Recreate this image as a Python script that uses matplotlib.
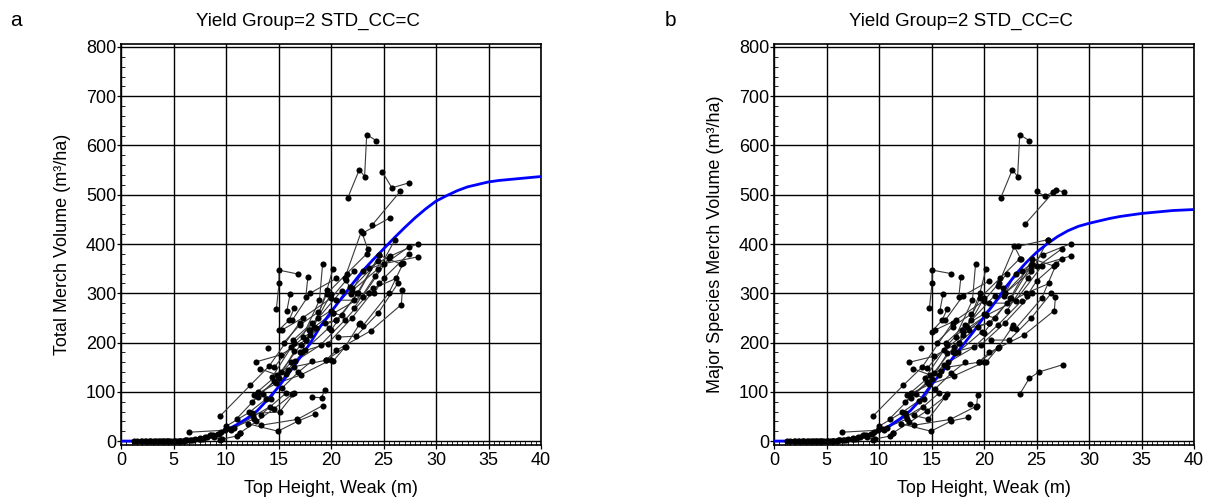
import matplotlib
matplotlib.use("Agg")
import matplotlib.pyplot as plt
from matplotlib.ticker import MultipleLocator

plt.rcParams['font.family'] = ['Liberation Sans', 'DejaVu Sans']

# fitted yield curves (read every 1 m of top height)
curve_h = list(range(0, 41))
curve_a = [0, 0, 0, 0, 0, 1, 2, 4, 7, 13, 22, 33, 46, 62, 85, 110, 138, 168, 198, 233,
           262, 290, 318, 345, 368, 390, 412, 433, 453, 471, 487, 498, 508, 516, 521,
           526, 529, 531, 533, 535, 537]
curve_b = [0, 0, 0, 0, 0, 1, 2, 4, 7, 12, 20, 31, 45, 62, 85, 115, 140, 168, 195, 222,
           252, 280, 310, 338, 362, 383, 400, 415, 427, 436, 442, 447, 452, 456, 459,
           462, 464, 466, 468, 469, 470]

# plot remeasurements, near-zero young plots (same in both panels)
young_h = [
    [1.2, 2.0, 2.9], [1.5, 2.4, 3.4, 4.3], [1.9, 2.8, 3.9, 5.0], [2.3, 3.2, 4.4, 5.5],
    [2.7, 3.7, 4.8, 6.0], [3.1, 4.1, 5.3, 6.6], [3.6, 4.6, 5.7, 7.0], [4.0, 5.1, 6.3, 7.6],
    [4.5, 5.6, 6.9, 8.2], [5.0, 6.1, 7.4, 8.8], [5.6, 6.7, 8.0, 9.3], [6.5, 9.9],
    [6.2, 7.5, 8.6, 9.5], [7.8, 8.9, 9.4], [7.5, 9.2, 10.8], [9.6, 11.0, 11.3],
]
young_v = [
    [0, 0, 0], [0, 0, 0, 0], [0, 0, 0, 0], [0, 0, 0, 1],
    [0, 0, 0, 1], [0, 0, 1, 3], [0, 0, 1, 4], [0, 0, 2, 5],
    [0, 1, 3, 8], [0, 2, 5, 12], [1, 3, 8, 15], [18, 22],
    [2, 6, 12, 18], [4, 8, 3], [5, 14, 26], [4, 10, 16],
]

# panel a: total merch volume
height_a = [
    [21.6, 22.7, 23.2, 23.4, 24.3], [24.9, 25.8, 27.4], [23.9, 26.6], [23.0, 25.6],
    [14.8, 15.05, 15.05, 16.85], [15.8, 16.1], [17.6, 17.8], [17.3, 18.9, 19.2],
    [18.4, 19.6, 20.2], [13.97], [9.4, 12.3, 14.1, 17.0], [12.9, 15.2, 17.6, 20.0],
    [13.2, 14.9, 16.5, 19.5, 21.4], [12.7, 14.8, 17.1, 20.0], [12.5, 15.1, 16.5],
    [12.1, 14.95, 16.9, 18.5], [13.3, 16.8, 19.2], [18.2, 19.1, 19.4], [13.3, 15.7],
    [15.3, 17.3, 20.0, 22.2], [15.5, 17.0, 18.8], [16.3, 18.0, 20.5],
    [17.9, 20.5, 22.6, 24.6], [18.0, 20.2, 23.0, 25.5], [17.0, 19.7, 22.0, 24.6],
    [16.6, 19.0, 21.3, 23.6], [19.5, 20.5, 23.8, 26.7, 26.8], [20.7, 22.4, 24.5, 26.4],
    [21.3, 22.9, 23.5], [20.5, 22.2, 24.0, 26.2], [21.4, 21.8, 23.6, 25.6, 28.3],
    [21.9, 23.0, 25.0, 28.3], [22.2, 24.2, 26.1], [22.7, 23.0, 25.5, 26.9],
    [22.0, 24.5, 27.4], [20.0, 22.5, 24.6, 26.7], [18.0, 20.2, 21.0], [17.6, 19.4, 20.5],
    [20.2, 21.3, 22.8], [14.4, 16.2, 18.6], [13.0, 15.2, 17.1], [12.5, 14.6, 16.2],
    [11.0, 13.0, 15.0, 16.5], [10.0, 12.2, 13.8], [11.3, 12.9, 14.6, 16.3],
    [8.5, 10.4, 12.7], [15.0, 16.0, 16.5], [13.5, 14.3, 15.7], [17.2, 19.6, 21.5, 23.4],
    [16.4, 18.2, 20.0, 22.0, 24.5], [14.6, 16.5, 18.8, 21.0], [15.9, 17.5, 19.8],
    [24.1, 25.0, 27.4], [15.3, 16.9, 18.2], [10.5, 12.6, 14.2],
]
vol_a = [
    [494, 551, 537, 622, 610], [546, 514, 524], [438, 507], [422, 453],
    [269, 320, 347, 339], [265, 298], [293, 333], [212, 286, 359],
    [232, 306, 350], [188], [50, 113, 152, 240], [161, 175, 205, 299],
    [147, 134, 151, 164, 191], [93, 117, 134, 165], [56, 59, 97],
    [35, 20, 41, 55], [32, 44, 72], [89, 88, 104], [53, 97],
    [225, 250, 290, 345], [200, 235, 262], [245, 300, 330],
    [225, 245, 300, 377], [215, 259, 293, 372], [180, 198, 250, 320],
    [162, 195, 245, 300], [164, 184, 224, 277, 307], [211, 213, 260, 321],
    [330, 426, 390], [286, 286, 310, 330], [326, 313, 352, 375, 401],
    [299, 345, 360, 374], [270, 335, 409], [237, 233, 300, 362],
    [305, 350, 394], [225, 300, 377, 359], [225, 260, 255], [205, 240, 245],
    [162, 190, 240], [130, 190, 230], [100, 140, 195], [80, 122, 160],
    [45, 90, 128, 182], [30, 58, 85], [16, 40, 66, 95],
    [12, 25, 45], [225, 245, 270], [95, 86, 137], [180, 299, 340, 380],
    [205, 240, 265, 310, 365], [150, 200, 250, 305], [145, 185, 230],
    [300, 330, 380], [107, 140, 163], [22, 50, 70],
]

# panel b: major species merch volume
height_b = [
    [21.6, 22.7, 23.2, 23.4, 24.3], [25.0, 25.8, 26.9, 27.6], [23.9, 26.6], [23.2, 26.1],
    [14.8, 15.05, 15.05, 16.85], [15.8, 16.1], [17.6, 17.8], [17.3, 18.9, 19.2],
    [18.4, 19.6, 20.2], [13.97], [9.4, 12.3, 14.1, 17.0], [12.9, 15.2, 17.6, 20.0],
    [13.2, 14.9, 16.5, 19.5, 21.4], [12.7, 14.8, 17.1, 20.0], [12.5, 14.7, 16.5],
    [12.1, 14.95, 16.9, 18.5], [13.3, 16.8, 19.2], [18.7, 19.3, 19.4], [13.3, 15.7],
    [15.3, 17.3, 20.0, 22.2], [15.5, 17.0, 18.8], [16.3, 18.0, 20.5],
    [17.9, 20.5, 22.6, 24.6], [18.0, 20.2, 23.0, 25.5], [17.0, 19.7, 22.0, 24.6],
    [16.6, 19.0, 21.3, 23.6], [19.5, 20.5, 23.8, 26.7, 26.8], [20.7, 22.4, 24.5, 26.4],
    [21.3, 22.9, 23.5], [20.5, 22.2, 24.0, 26.2], [21.4, 21.8, 23.6, 25.6, 28.3],
    [21.9, 23.0, 25.0, 28.3], [22.2, 24.2, 26.1], [22.7, 23.0, 25.5, 26.9],
    [22.0, 24.5, 27.4], [20.0, 22.5, 24.6, 26.7], [18.0, 20.2, 21.0], [17.6, 19.4, 20.5],
    [20.2, 21.3, 22.8], [14.4, 16.2, 18.6], [13.0, 15.2, 17.1], [12.5, 14.6, 16.2],
    [11.0, 13.0, 15.0, 16.5], [10.0, 12.2, 13.8], [11.3, 12.9, 14.6, 16.3],
    [8.5, 10.4, 12.7], [15.0, 16.0, 16.5], [13.5, 14.3, 15.7], [17.2, 19.6, 21.5, 23.4],
    [16.4, 18.2, 20.0, 22.0, 24.5], [14.6, 16.5, 18.8, 21.0], [15.9, 17.5, 19.8],
    [24.1, 25.0, 27.4], [15.3, 16.9, 18.2], [10.5, 12.6, 14.2], [23.4, 24.3, 25.2, 27.5],
]
vol_b = [
    [494, 551, 537, 622, 610], [507, 497, 509, 506], [440, 505], [395, 409],
    [270, 320, 347, 340], [265, 298], [293, 333], [212, 286, 360],
    [232, 300, 350], [188], [50, 113, 150, 240], [160, 172, 200, 290],
    [147, 134, 150, 160, 190], [93, 115, 132, 160], [56, 45, 95],
    [35, 20, 41, 48], [32, 44, 70], [76, 72, 93], [53, 97],
    [225, 245, 285, 340], [200, 232, 258], [245, 295, 325],
    [225, 240, 290, 360], [215, 255, 285, 355], [180, 195, 240, 300],
    [160, 190, 235, 285], [160, 180, 215, 265, 292], [205, 205, 250, 300],
    [315, 395, 370], [280, 280, 300, 320], [320, 310, 345, 378, 401],
    [295, 340, 355, 376], [265, 330, 409], [230, 228, 290, 360],
    [300, 345, 390], [220, 290, 370, 355], [222, 255, 250], [200, 232, 240],
    [160, 188, 235], [128, 185, 225], [98, 138, 190], [80, 120, 155],
    [45, 88, 125, 178], [30, 58, 82], [16, 38, 62, 90],
    [12, 25, 45], [222, 245, 268], [95, 86, 135], [178, 290, 330, 370],
    [200, 235, 258, 300, 355], [148, 195, 245, 295], [143, 180, 222],
    [295, 325, 370], [105, 138, 160], [22, 50, 70], [95, 127, 140, 155],
]

title = "Yield Group=2 STD_CC=C"
ylab_a = "Total Merch Volume (m\u00b3/ha)"
ylab_b = "Major Species Merch Volume (m\u00b3/ha)"
xlab = "Top Height, Weak (m)"

fig = plt.figure(figsize=(12.11, 5.04), dpi=100)
W, H = 1211, 504


def panel(left_px, hts, vols, curve, ylab, letter, letter_x):
    ax = fig.add_axes([left_px / W, (H - 445) / H, 420 / W, 401 / H])
    for x, y in zip(young_h + hts, young_v + vols):
        ax.plot(x, y, '-', color='#3a3a3a', lw=0.8, zorder=2)
        ax.plot(x, y, 'o', color='black', ms=4.4, mew=0, zorder=4)
    ax.plot(curve_h, curve, color='#0000ff', lw=2.0, zorder=3)
    ax.set_xlim(0, 40)
    ax.set_ylim(-8, 806)
    ax.xaxis.set_major_locator(MultipleLocator(5))
    ax.xaxis.set_minor_locator(MultipleLocator(0.5))
    ax.yaxis.set_major_locator(MultipleLocator(100))
    ax.yaxis.set_minor_locator(MultipleLocator(20))
    ax.grid(True, which='major', color='black', lw=1.0, zorder=1)
    ax.set_axisbelow(True)
    ax.tick_params(which='major', direction='out', length=3, width=0.9,
                   labelsize=13, pad=2)
    ax.tick_params(axis='y', which='major', pad=0.5)
    ax.tick_params(which='minor', direction='in', length=3, width=0.6)
    for s in ax.spines.values():
        s.set_color('black')
        s.set_linewidth(1.2)
    ax.set_xlabel(xlab, fontsize=13)
    ax.set_ylabel(ylab, fontsize=13)
    ax.xaxis.set_label_coords(0.5, -0.088)
    ax.yaxis.set_label_coords(-0.118, 0.5)
    fig.text((left_px + 187) / W, 1 - 21 / H, title, fontsize=13.5,
             ha='center', va='center')
    fig.text(letter_x / W, 1 - 20 / H, letter, fontsize=15,
             ha='center', va='center')
    return ax


panel(121, height_a, vol_a, curve_a, ylab_a, 'a', 16)
panel(774, height_b, vol_b, curve_b, ylab_b, 'b', 670)

fig.savefig('out.png', dpi=100)
